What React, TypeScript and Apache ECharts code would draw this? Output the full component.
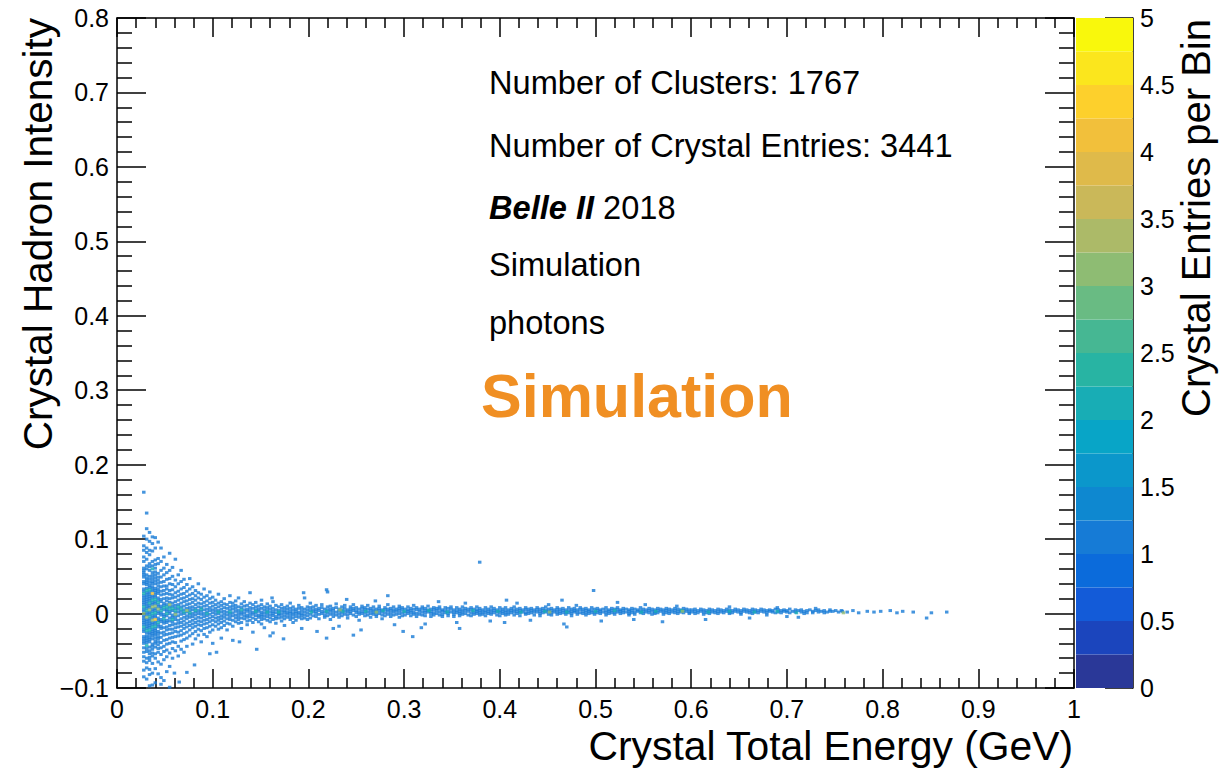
import React, { useEffect, useRef } from "react";
import * as echarts from "echarts";

// Values are in thousandths: x = crystal total energy [1e-3 GeV], y = crystal hadron intensity [1e-3].
// Each entry is [x, list of y] for one energy column of the 2D histogram; bins listed here hold 1 entry.
const blobColumns: [number, number[]][] = [
  [28, [163, 104, 91, 85, 76, 70, 61, 58, 55, 52, 49, 43, 40, 33, 30, 24, 21, 18, 15, 12, 6, 3, -3, -6, -9, -12, -15, -21, -24, -31, -34, -37, -40, -46, -52, -58, -64, -76, -85]],
  [31, [135, 114, 100, 88, 82, 73, 64, 60, 52, 48, 45, 42, 39, 34, 28, 25, 22, 19, 16, 13, 10, 7, 1, -2, -8, -11, -14, -17, -20, -26, -30, -33, -36, -39, -47, -51, -60, -66, -73, -88]],
  [34, [109, 97, 85, 79, 67, 63, 58, 50, 46, 42, 38, 35, 29, 26, 23, 20, 17, 11, 8, 2, -1, -7, -10, -13, -16, -19, -25, -28, -32, -35, -38, -45, -50, -54, -59, -63, -75, -82, -97]],
  [37, [103, 94, 84, 70, 64, 55, 51, 47, 43, 40, 36, 33, 30, 24, 21, 15, 12, 6, 3, -3, -6, -12, -15, -21, -24, -27, -30, -34, -41, -44, -48, -53, -57, -67, -80, -96]],
  [40, [102, 88, 72, 66, 61, 56, 52, 48, 44, 40, 34, 31, 28, 25, 22, 16, 13, 7, 4, -2, -5, -11, -14, -20, -23, -26, -29, -33, -37, -40, -45, -54, -60, -74, -93]],
  [43, [96, 74, 67, 54, 49, 45, 41, 37, 33, 30, 27, 21, 18, 12, 9, 3, 0, -6, -9, -15, -18, -24, -27, -31, -34, -38, -42, -47, -52, -65, -81]],
];

const nearColumns: [number, number[]][] = [
  [46, [88, 70, 58, 49, 42, 36, 30, 25, 19, 16, 10, 7, 1, -2, -8, -11, -17, -20, -26, -32, -39, -46, -55, -68, -86, -95]],
  [49, [76, 61, 52, 43, 37, 31, 26, 20, 14, 11, 5, -1, -4, -10, -13, -19, -25, -29, -36, -44, -51, -62, -90]],
  [52, [66, 55, 46, 37, 33, 27, 21, 17, 12, 6, 3, -3, -9, -12, -18, -22, -28, -35, -41, -49, -58, -78]],
  [55, [81, 58, 47, 40, 31, 26, 20, 15, 9, 3, 0, -6, -10, -16, -21, -27, -33, -40, -53, -71, -99]],
  [58, [62, 50, 39, 32, 25, 21, 14, 10, 4, -2, -5, -11, -15, -21, -26, -32, -38, -47, -60]],
  [61, [73, 45, 36, 28, 22, 16, 11, 7, 1, -4, -8, -14, -19, -24, -31, -39, -50]],
  [64, [52, 40, 30, 24, 18, 12, 6, 2, -3, -9, -13, -18, -25, -30, -44, -57]],
  [67, [58, 43, 33, 26, 20, 14, 9, 3, -1, -7, -12, -17, -23, -29, -37, -48]],
  [70, [46, 35, 27, 21, 16, 10, 5, 0, -5, -10, -15, -20, -27, -35, -52]],
  [73, [39, 30, 23, 17, 12, 7, 2, -3, -7, -13, -18, -25, -33, -44]],
  [76, [47, 33, 25, 19, 13, 8, 4, -1, -5, -11, -16, -22, -30]],
  [79, [36, 27, 20, 15, 9, 5, 0, -4, -9, -14, -19, -27, -41]],
  [82, [31, 24, 18, 12, 7, 2, -2, -7, -12, -17, -24, -34]],
  [85, [40, 28, 21, 14, 9, 4, 0, -5, -10, -15, -21, -29]],
  [88, [26, 19, 13, 8, 3, -1, -6, -11, -16, -23, -38]],
  [91, [33, 22, 15, 10, 5, 0, -4, -9, -14, -20, -28]],
  [94, [24, 17, 11, 6, 2, -3, -8, -13, -19, -31]],
  [97, [29, 20, 14, 8, 4, -1, -6, -11, -17, -25]],
  [100, [22, 15, 10, 5, 1, -4, -9, -15, -22, -40]],
];

const midColumns: [number, number[]][] = [
  [103, [18, 12, 7, 3, -1, -6, -11, -17]], [106, [26, 14, 9, 4, 0, -5, -9, -14, -21]],
  [109, [16, 11, 6, 2, -3, -7, -12, -19, -33]], [112, [20, 13, 8, 3, -1, -5, -10, -16]],
  [115, [12, 7, 2, -2, -7, -13, -22]], [118, [24, 15, 9, 5, 0, -4, -8, -14]],
  [121, [14, 10, 6, 1, -3, -9, -17, -36]], [124, [17, 11, 7, 3, -2, -6, -11]],
  [127, [21, 9, 4, 0, -4, -8, -13]], [130, [13, 8, 2, -1, -6, -12, -20]],
  [133, [16, 10, 5, 1, -3, -7]], [136, [11, 6, 3, -2, -5, -10, -15]],
  [139, [28, 14, 8, 4, 0, -4, -9]], [142, [12, 7, 2, -1, -6, -12, -25]],
  [145, [15, 9, 5, 1, -3, -8]], [148, [10, 6, 3, -2, -5, -11]],
  [151, [18, 12, 7, 2, -1, -4, -8, -14]], [154, [9, 5, 1, -3, -7, -19]],
  [157, [13, 8, 4, 0, -4, -9]], [160, [10, 6, 2, -2, -6, -11, -30]],
  [163, [16, 7, 3, 0, -3, -8]], [166, [11, 5, 1, -4, -7, -13]],
  [169, [9, 4, 0, -2, -6]], [172, [12, 7, 3, -1, -5, -10]],
  [175, [8, 4, 1, -3, -7, -16]], [178, [10, 6, 2, -1, -5]],
  [181, [14, 7, 3, 0, -4, -8]], [184, [9, 5, 1, -2, -6, -12]],
  [187, [6, 3, 0, -4, -9]], [190, [11, 7, 2, -1, -5]],
  [193, [8, 4, 0, -3, -7, -20]], [196, [21, 6, 2, -2, -6]],
  [199, [9, 5, 1, -3, -8]],
];

const bandColumns: [number, number[]][] = [
  [202, [14, 8, 4, -1, -6]], [205, [9, 5, 2, -3]], [208, [11, 6, 3, 0, -4]], [211, [7, 4, -1, -7]],
  [214, [12, 8, 3, 0]], [217, [6, 2, -2, -5]], [220, [29, 9, 5, 1, -3]], [223, [10, 6, 3, -1, -8]],
  [226, [7, 4, 0, -4]], [229, [13, 8, 2, -2]], [232, [6, 3, -1, -5, -17]], [235, [9, 5, 1, -3]],
  [238, [11, 7, 3, -1]], [241, [5, 2, -2, -6]], [244, [9, 6, 3, 0]], [247, [12, 7, 4, -2]],
  [250, [8, 4, 1, -4]], [253, [6, 2, -1, -9]], [256, [10, 7, 3, 0]], [259, [8, 5, 1, -3]],
  [262, [11, 6, 2, -2]], [265, [7, 4, 0, -5]], [268, [9, 5, 2, -1]], [271, [6, 3, -1, -4]],
  [274, [10, 7, 4, 0]], [277, [5, 2, -2, -7]], [280, [8, 5, 1, -3]], [283, [12, 6, 3, -1]],
  [286, [7, 4, 0, -4]], [289, [9, 5, 2, -2]], [292, [6, 3, -1]], [295, [10, 7, 4, 0, -5]],
  [298, [8, 5, 1, -3]], [301, [6, 2, -2]], [304, [9, 5, 3, 0]], [307, [7, 4, 1, -3]],
  [310, [11, 6, 2, -1]], [313, [8, 5, 0, -4]], [316, [6, 3, -1]], [319, [9, 6, 2, -2]],
  [322, [7, 4, 1, -3, -14]], [325, [10, 5, 2]], [328, [6, 3, 0, -4]], [331, [8, 5, 1, -2]],
  [334, [7, 4, 0]], [337, [9, 6, 2, -2]], [340, [5, 3, -1, -4]], [343, [8, 4, 1]],
  [346, [7, 3, 0, -3]], [349, [9, 6, 2]], [352, [5, 2, -1, -4]], [355, [8, 4, 1]],
  [358, [6, 3, 0, -3]], [361, [9, 5, 2, -1]], [364, [7, 4, 0]], [367, [6, 3, -2]],
  [370, [8, 5, 1, -3]], [373, [6, 2, -1]], [376, [9, 5, 3, 0]], [379, [7, 4, 1, -2]],
  [382, [5, 2, -1]], [385, [8, 4, 1, -3]], [388, [6, 3, 0]], [391, [9, 5, 2, -1]],
  [394, [7, 4, 1]], [397, [5, 2, -2]], [400, [8, 4, 1, -3]],
];

const flatColumns: [number, number[]][] = [
  [403, [6, 3, 0]], [406, [8, 4, 1, -2]], [409, [5, 2, -1]], [412, [7, 4, 1]], [415, [9, 5, 2, -2]],
  [418, [6, 3, 0]], [421, [7, 4, 1, -3]], [424, [5, 2]], [427, [8, 5, 1, -1]], [430, [6, 3, 0]],
  [433, [7, 4, 1]], [436, [5, 2, -2]], [439, [8, 5, 2]], [442, [6, 3, 0, -3]], [445, [7, 4, 1]],
  [448, [9, 5, 2]], [451, [6, 3, -1]], [454, [7, 4, 1, -2]], [457, [5, 2]], [460, [8, 5, 2, -1]],
  [463, [6, 3, 0]], [466, [7, 4, 1]], [469, [5, 2, -1]], [472, [8, 4, 1]], [475, [6, 3, 0, -3]],
  [478, [7, 4, 2]], [481, [5, 2, -1]], [484, [8, 5, 1]], [487, [6, 3, 0]], [490, [7, 4, 1, -2]],
  [493, [5, 3, 0]], [496, [8, 4, 1]], [499, [6, 2, -1]], [502, [7, 4, 1]], [505, [5, 3, 0]],
  [508, [6, 2]], [511, [8, 4, 1, -2]], [514, [5, 3, 0]], [517, [7, 4, 1]], [520, [6, 2, -1]],
  [523, [8, 5, 2]], [526, [5, 3, 0]], [529, [7, 4, 1]], [532, [6, 2]], [535, [5, 3, 0, -2]],
  [538, [7, 4, 1]], [541, [6, 2, -1]], [544, [5, 3]], [547, [8, 4, 1]], [550, [6, 3, 0]],
  [553, [5, 2]], [556, [7, 4, 1]], [559, [6, 3, -1]], [562, [5, 2, 0]], [565, [7, 4, 1]],
  [568, [6, 3]], [571, [5, 2, -1]], [574, [7, 4, 1]], [577, [6, 3, 0]], [580, [5, 2]],
  [583, [7, 4, 1]], [586, [6, 3, 0]], [589, [5, 2]], [592, [7, 4, 1]], [595, [6, 3]],
  [598, [5, 2, 0]],
];

const farColumns: [number, number[]][] = [
  [601, [5, 2]], [604, [6, 3, 0]], [607, [4, 1]], [610, [6, 3]], [613, [5, 2, -1]], [616, [4, 1]],
  [619, [6, 3, 0]], [622, [5, 2]], [625, [4, 1]], [628, [6, 3, 0]], [631, [5, 2]], [634, [4, 1]],
  [637, [6, 3]], [640, [5, 2, 0]], [643, [4, 1]], [646, [6, 3]], [649, [5, 2]], [652, [4, 1, -1]],
  [655, [6, 3]], [658, [5, 2]], [661, [4, 1]], [664, [6, 3, 0]], [667, [5, 2]], [670, [4, 1]],
  [673, [6, 3]], [676, [5, 2]], [679, [4, 1, -2]], [682, [5, 3]], [685, [4, 2]], [688, [6, 1]],
  [691, [5, 2]], [694, [4, 1]], [697, [5, 3]], [700, [4, 2]], [703, [6, 1]], [706, [3]],
  [709, [5, 2]], [712, [4]], [715, [5, 2]], [718, [3, 0]], [721, [4, 1]], [724, [5]],
  [727, [3, 1]], [730, [4]], [733, [5, 2]], [736, [3]], [739, [4, 1]], [742, [2]],
  [745, [5, 3]], [748, [3]], [751, [4]], [754, [2]], [757, [4]],
];

// isolated single-entry bins [x, y]
const sparsePoints: [number, number][] = [
  [97, -54], [104, -52], [81, -69], [73, -79], [60, -80], [65, -92], [174, -34], [219, -33], [219, 32],
  [195, 28], [162, 21], [146, -48], [128, -38], [163, -26],
  [209, -24], [226, -20], [240, 19], [255, -22], [270, 17], [290, -15], [318, -19], [336, 16], [355, -12],
  [364, 14], [390, -10], [247, -29], [283, 24], [309, -31], [299, -24], [358, -20], [379, 69],
  [405, -12], [418, 14], [432, -9], [451, 12], [467, -14], [480, 11], [498, 31], [506, -10], [523, 15],
  [540, -8], [552, 12], [570, -11], [585, 10], [407, 18], [470, -18], [465, 18],
  [615, -8], [640, 9], [661, -6], [690, 8], [712, -5], [730, 7], [700, -4],
  [758, 3], [763, 2], [769, 4], [775, 1], [784, 3], [791, 2], [798, 3], [808, 4], [815, 1], [821, 3],
  [832, 2], [846, -6], [851, 1], [867, 2],
];

// bins holding 2, 3 and 4 entries [x, y]
const doubleBins: [number, number][] = [
  [28, 27], [28, 9], [28, -18], [31, 31], [31, 4], [31, -23], [31, -43], [34, 32], [34, 14], [34, -4], [34, -22],
  [37, 18], [37, 0], [37, -18], [37, 60], [40, 19], [40, 1], [40, -17], [43, 15], [43, -12],
  [46, 4], [49, 8], [52, 0], [52, 9], [55, 6], [58, 7], [61, 4], [64, 9], [67, 6], [70, 2], [76, 1], [82, 4],
  [88, 6], [94, 0], [49, -7], [58, -8], [106, 2], [118, 2], [130, 5], [145, 3], [157, 2], [169, 2],
  [203, 2], [219, 3], [236, 3], [260, 3], [278, 4], [300, 3], [326, 4], [345, 2], [372, 4], [398, 3],
  [422, 2], [447, 3], [470, 2], [500, 3], [520, 4], [548, 2], [563, 3], [590, 4], [618, 2], [640, 3],
  [666, 2], [690, 3], [710, 1],
];
const tripleBins: [number, number][] = [
  [28, 0], [31, -5], [34, 5], [37, 9], [37, -9], [40, 10], [43, 6], [55, 12], [61, -1], [73, 4],
  [233, 5], [271, 2], [452, 2], [591, 3], [759, 1],
];
const quadBins: [number, number][] = [[40, -8], [37, 27]];

const xTickValues = { min: 0, max: 1, step: 0.1 };
const yTickValues = { min: -0.1, max: 0.8, step: 0.1 };
const zTickValues = { min: 0, max: 5, step: 0.5 };
const zLevelStep = 0.25;
// ROOT "kBird" palette, 20 contour levels from 0 to 5
const zLevelColors = [
  "#2a3898", "#1b45bd", "#135bd8", "#0b6bdb", "#167bd6", "#0e88d0", "#0b97cb", "#08a5c7", "#18adb5", "#28b4a3",
  "#46b793", "#69bb83", "#8ebc73", "#acba68", "#cab859", "#dfba4a", "#f2c03b", "#fdd02c", "#fbe61d", "#f9f80c",
];

const infoLines = ["Number of Clusters: 1767", "Number of Crystal Entries: 3441", "{b|Belle II} 2018", "Simulation", "photons"];
const watermark = "Simulation";
const xTitle = "Crystal Total Energy (GeV)";
const yTitle = "Crystal Hadron Intensity";
const zTitle = "Crystal Entries per Bin";

const FONT = "'Liberation Sans', Arial, Helvetica, sans-serif";

function columnsToData(cols: [number, number[]][], count: number) {
  return cols.flatMap(([x, ys]) => ys.map((y) => [x / 1000, y / 1000, count]));
}
function pointsToData(pts: [number, number][], count: number) {
  return pts.map(([x, y]) => [x / 1000, y / 1000, count]);
}

const fmtTick = (v: number) => {
  const r = Math.round(v * 10) / 10;
  return r < 0 ? "\u2212" + String(-r) : String(r);
};

export default function App() {
  const ref = useRef<HTMLDivElement>(null);
  useEffect(() => {
    if (!ref.current) return;
    const chart = echarts.init(ref.current, undefined, { renderer: "svg" });
    const data = [
      ...columnsToData(blobColumns, 1),
      ...columnsToData(nearColumns, 1),
      ...columnsToData(midColumns, 1),
      ...columnsToData(bandColumns, 1),
      ...columnsToData(flatColumns, 1),
      ...columnsToData(farColumns, 1),
      ...pointsToData(sparsePoints, 1),
      ...pointsToData(doubleBins, 2),
      ...pointsToData(tripleBins, 3),
      ...pointsToData(quadBins, 4),
    ];
    const black = "#000";
    const lineW = 1.5;
    const baseX = {
      gridIndex: 0,
      type: "value",
      min: xTickValues.min,
      max: xTickValues.max,
      interval: xTickValues.step,
      axisLine: { show: true, onZero: false, lineStyle: { color: black, width: lineW } },
      axisTick: { show: true, inside: true, length: 19, lineStyle: { color: black, width: lineW } },
      minorTick: { show: true, splitNumber: 5, length: 10, lineStyle: { color: black, width: lineW } },
      splitLine: { show: false },
      minorSplitLine: { show: false },
    };
    const baseY = {
      gridIndex: 0,
      type: "value",
      min: yTickValues.min,
      max: yTickValues.max,
      interval: yTickValues.step,
      axisLine: { show: true, onZero: false, lineStyle: { color: black, width: lineW } },
      axisTick: { show: true, inside: true, length: 29, lineStyle: { color: black, width: lineW } },
      minorTick: { show: true, splitNumber: 5, length: 15, lineStyle: { color: black, width: lineW } },
      splitLine: { show: false },
      minorSplitLine: { show: false },
    };
    const labelStyle = { color: black, fontSize: 25, fontFamily: FONT, showMinLabel: true, showMaxLabel: true };
    const infoBaselines = [82, 145, 207, 264, 322];
    const option: any = {
      animation: false,
      backgroundColor: "#fff",
      grid: [
        { left: 117, top: 18, width: 957, height: 670 },
        { left: 1076, top: 18, width: 57, height: 670 },
      ],
      xAxis: [
        { ...baseX, position: "bottom", axisLabel: { ...labelStyle, margin: 8, formatter: fmtTick } },
        { ...baseX, position: "top", axisLabel: { show: false } },
        { gridIndex: 1, type: "category", data: ["z"], show: false },
      ],
      yAxis: [
        { ...baseY, position: "left", axisLabel: { ...labelStyle, margin: 8, formatter: fmtTick } },
        { ...baseY, position: "right", axisLabel: { show: false } },
        {
          gridIndex: 1,
          type: "value",
          position: "right",
          min: zTickValues.min,
          max: zTickValues.max,
          interval: zTickValues.step,
          axisLine: { show: true, lineStyle: { color: black, width: lineW } },
          axisTick: { show: true, inside: true, length: 28, lineStyle: { color: black, width: lineW } },
          splitLine: { show: false },
          axisLabel: { ...labelStyle, margin: 7, formatter: fmtTick },
        },
      ],
      visualMap: {
        type: "piecewise",
        show: false,
        seriesIndex: 0,
        dimension: 2,
        pieces: zLevelColors.map((c, i) => ({ gte: i * zLevelStep, lt: (i + 1) * zLevelStep, color: c })),
      },
      series: [
        {
          type: "scatter",
          xAxisIndex: 0,
          yAxisIndex: 0,
          symbol: "rect",
          symbolSize: [3.5, 3.0],
          silent: true,
          data,
        },
        ...zLevelColors.map((c) => ({
          type: "bar",
          xAxisIndex: 2,
          yAxisIndex: 2,
          stack: "z",
          barWidth: "100%",
          silent: true,
          itemStyle: { color: c },
          data: [zLevelStep],
        })),
      ],
      graphic: [
        ...infoLines.map((t, i) => ({
          type: "text",
          x: 489,
          y: infoBaselines[i],
          silent: true,
          style: {
            text: t,
            fontSize: 32.6,
            fontFamily: FONT,
            fill: black,
            align: "left",
            verticalAlign: "middle",
            rich: { b: { fontSize: 32.6, fontFamily: FONT, fontStyle: "italic", fontWeight: "bold", fill: black } },
          },
        })),
        {
          type: "text",
          x: 481,
          y: 396,
          silent: true,
          style: { text: watermark, fontSize: 61, fontWeight: "bold", fontFamily: FONT, fill: "#f08f23", align: "left", verticalAlign: "middle" },
        },
        {
          type: "text",
          x: 1073,
          y: 746,
          silent: true,
          style: { text: xTitle, fontSize: 40.8, fontFamily: FONT, fill: black, align: "right", verticalAlign: "middle" },
        },
        {
          type: "text",
          x: 38,
          y: 18,
          rotation: Math.PI / 2,
          silent: true,
          style: { text: yTitle, fontSize: 40.5, fontFamily: FONT, fill: black, align: "right", verticalAlign: "middle" },
        },
        {
          type: "text",
          x: 1196,
          y: 19,
          rotation: Math.PI / 2,
          silent: true,
          style: { text: zTitle, fontSize: 40, fontFamily: FONT, fill: black, align: "right", verticalAlign: "middle" },
        },
      ],
    };
    chart.setOption(option);
    return () => chart.dispose();
  }, []);
  return (
    <div
      ref={ref}
      style={{ position: "fixed", left: 0, top: 0, width: 1224, height: 769, background: "#fff" }}
    />
  );
}
